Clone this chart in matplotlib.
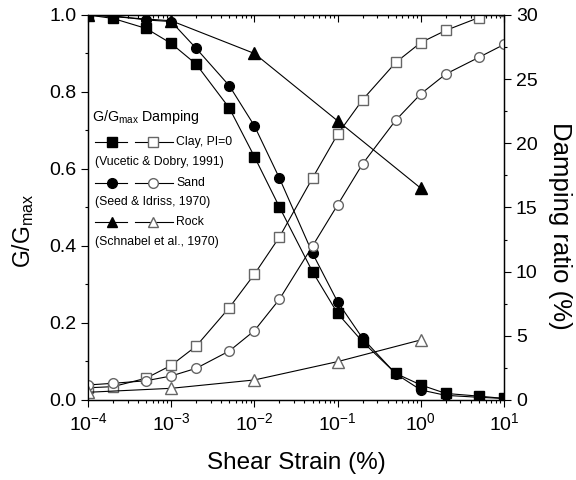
import matplotlib.pyplot as plt
from matplotlib.ticker import MultipleLocator, LogLocator, NullFormatter
import numpy as np

plt.rcParams['font.family'] = ['Liberation Sans', 'DejaVu Sans']
plt.rcParams['mathtext.fontset'] = 'custom'
plt.rcParams['mathtext.rm'] = 'Liberation Sans'
plt.rcParams['mathtext.it'] = 'Liberation Sans'

# shear strain (%)
clay_x = [1e-4, 2e-4, 5e-4, 1e-3, 2e-3, 5e-3, 1e-2, 2e-2, 5e-2, 0.1, 0.2, 0.5, 1, 2, 5, 10]
clay_g = [1.0, 0.991, 0.965, 0.926, 0.872, 0.758, 0.632, 0.501, 0.333, 0.225, 0.151, 0.069, 0.039, 0.017, 0.010, 0.004]
clay_d = [0.95, 1.04, 1.7, 2.7, 4.2, 7.2, 9.8, 12.7, 17.3, 20.7, 23.4, 26.3, 27.85, 28.8, 29.8, 30.3]

sand_x = [1e-4, 2e-4, 5e-4, 1e-3, 2e-3, 5e-3, 1e-2, 2e-2, 5e-2, 0.1, 0.2, 0.5, 1, 2, 5, 10]
sand_g = [1.0, 0.998, 0.987, 0.983, 0.913, 0.816, 0.712, 0.576, 0.381, 0.255, 0.160, 0.068, 0.026, 0.012, 0.007, 0.004]
sand_d = [1.17, 1.3, 1.5, 1.87, 2.47, 3.82, 5.4, 7.85, 12.0, 15.2, 18.4, 21.8, 23.85, 25.4, 26.7, 27.7]

rock_x = [1e-4, 1e-3, 1e-2, 0.1, 1]
rock_g = [1.0, 0.985, 0.900, 0.725, 0.550]
rock_d = [0.6, 0.91, 1.56, 2.99, 4.68]

fig = plt.figure(figsize=(5.76, 4.8), dpi=100)
ax = fig.add_axes([0.1528, 0.1667, 0.7222, 0.8021])
ax2 = ax.twinx()

lw = 0.8
ms = 7
oc = '0.4'

ax.plot(clay_x, clay_g, 'k-', marker='s', ms=ms, lw=lw)
ax.plot(sand_x, sand_g, 'k-', marker='o', ms=ms, lw=lw)
ax.plot(rock_x, rock_g, 'k-', marker='^', ms=ms + 1, lw=lw)

ax2.plot(clay_x, clay_d, 'k-', marker='s', ms=ms, lw=lw, mfc='white', mec=oc)
ax2.plot(sand_x, sand_d, 'k-', marker='o', ms=ms, lw=lw, mfc='white', mec=oc)
ax2.plot(rock_x, rock_d, 'k-', marker='^', ms=ms + 1, lw=lw, mfc='white', mec=oc)

ax.set_xscale('log')
ax.set_xlim(1e-4, 10)
ax.set_ylim(0, 1.0)
ax2.set_ylim(0, 30)

ax.xaxis.set_major_locator(LogLocator(base=10, numticks=10))
ax.xaxis.set_minor_locator(LogLocator(base=10, subs=np.arange(2, 10), numticks=20))
ax.xaxis.set_minor_formatter(NullFormatter())
ax.yaxis.set_major_locator(MultipleLocator(0.2))
ax.yaxis.set_minor_locator(MultipleLocator(0.1))
ax.yaxis.set_major_formatter(plt.FuncFormatter(lambda v, p: f'{v:.1f}'))
ax2.yaxis.set_major_locator(MultipleLocator(5))
ax2.yaxis.set_minor_locator(MultipleLocator(2.5))

ax.tick_params(axis='both', which='major', labelsize=14, length=5, width=0.8, direction='out')
ax.tick_params(axis='both', which='minor', length=2.5, width=0.8, direction='out')
ax.tick_params(axis='x', which='both', top=True)
ax.tick_params(axis='x', which='major', pad=4)
ax2.tick_params(axis='y', which='major', labelsize=14, length=5, width=0.8, direction='out')
ax2.tick_params(axis='y', which='minor', length=2.5, width=0.8, direction='out')
# top ticks point inward
for t in ax.xaxis.get_major_ticks() + ax.xaxis.get_minor_ticks():
    t.tick2line.set_marker(3)

ax.set_xlabel('Shear Strain (%)', fontsize=17.5)
ax.xaxis.set_label_coords(0.5, -0.135)
ax.set_ylabel('G/G$_{\\mathrm{max}}$', fontsize=16.5)
ax.yaxis.set_label_coords(-0.125, 0.44)
ax2.set_ylabel('Damping ratio (%)', fontsize=18.5, rotation=270)
ax2.yaxis.set_label_coords(1.163, 0.452)

for a in (ax, ax2):
    for s in a.spines.values():
        s.set_linewidth(0.9)

# legend block
tr = ax.transAxes
ax.text(0.0096, 0.735, 'G/G$_{\\mathrm{max}}$ Damping', transform=tr, fontsize=10.3, va='center')
rows = [('s', 'Clay, PI=0', '(Vucetic & Dobry, 1991)', 0.670, 0.618),
        ('o', 'Sand', '(Seed & Idriss, 1970)', 0.564, 0.514),
        ('^', 'Rock', '(Schnabel et al., 1970)', 0.462, 0.410)]
for m, name, ref, y1, y2 in rows:
    ax.plot([0.0168, 0.0938], [y1, y1], 'k-', lw=lw, transform=tr)
    ax.plot([0.0577], [y1], 'k', marker=m, ms=ms, transform=tr)
    ax.plot([0.113, 0.204], [y1, y1], 'k-', lw=lw, transform=tr)
    ax.plot([0.156], [y1], marker=m, ms=ms, mfc='white', mec=oc, transform=tr)
    ax.text(0.212, y1, name, transform=tr, fontsize=8.8, va='center')
    ax.text(0.0168, y2, ref, transform=tr, fontsize=8.8, va='center')

fig.savefig('out.png', dpi=100)
